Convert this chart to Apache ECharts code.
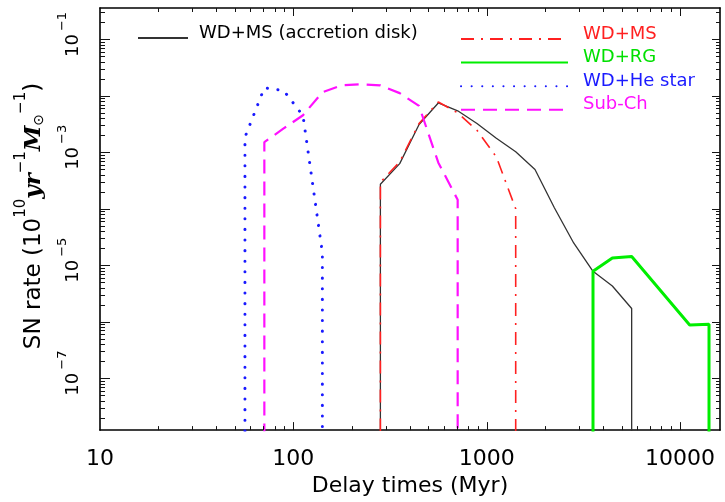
<!DOCTYPE html>
<html><head><meta charset="utf-8">
<script src="https://cdn.jsdelivr.net/npm/echarts@6/dist/echarts.min.js"></script>
<style>html,body{margin:0;padding:0;background:#fff}#c{width:725px;height:502px}</style>
</head><body><div id="c"></div>
<script>
// ---- data (delay time in Myr, SN rate in 10^10 yr^-1 Msun^-1) ----
const accX = [282, 355, 447, 562, 708, 891, 1122, 1413, 1778, 2239, 2818, 3548, 4467, 5623];
const accY = [2.72e-4, 6.3e-4, 3.11e-3, 7.48e-3, 5.43e-3, 3.23e-3, 1.78e-3, 1.02e-3, 4.95e-4, 1.04e-4, 2.48e-5, 7.8e-6, 4.28e-6, 1.71e-6];
const msX = [282, 355, 447, 562, 708, 891, 1122, 1413];
const msY = [2.95e-4, 6.8e-4, 3.24e-3, 7.8e-3, 5.0e-3, 2.45e-3, 8.3e-4, 1.0e-4];
const rgX = [3548, 4467, 5623, 11220, 14125];
const rgY = [7.8e-6, 1.34e-5, 1.43e-5, 8.75e-7, 9.0e-7];
const heX = [56.2, 70.8, 89.1, 112.2, 141.3];
const heY = [1.85e-3, 1.39e-2, 1.245e-2, 4.45e-3, 1.66e-5];
const subX = [70.8, 89.1, 112.2, 141.3, 177.8, 223.9, 281.8, 354.8, 446.7, 562.3, 707.9];
const subY = [1.51e-3, 2.65e-3, 4.53e-3, 1.16e-2, 1.535e-2, 1.6e-2, 1.535e-2, 1.117e-2, 6.64e-3, 6.55e-4, 1.44e-4];
const ZERO_RATE = 1e-10; // rate falls to zero outside each channel's range

const seriesNames = ['WD+MS (accretion disk)', 'WD+MS', 'WD+RG', 'WD+He star', 'Sub-Ch'];
const xLabelValues = [10, 100, 1000, 10000];
const yLabelValues = [1e-1, 1e-3, 1e-5, 1e-7];
const xMajorValues = [10, 100, 1000, 10000];
const yMajorValues = [1e-1, 1e-2, 1e-3, 1e-4, 1e-5, 1e-6, 1e-7, 1e-8];
const X_MIN = 10, X_MAX = 16100, Y_MIN = 1.2e-8, Y_MAX = 0.36;

const xMinorValues = [];
[10, 100, 1000].forEach(d => { for (let k = 2; k <= 9; k++) xMinorValues.push(k * d); });
const yMinorValues = [];
yMajorValues.forEach(d => { for (let k = 2; k <= 9; k++) { const v = k * d; if (v > Y_MIN && v < Y_MAX) yMinorValues.push(v); } });

function withDrops(xs, ys) {
  const out = [[xs[0], ZERO_RATE]];
  xs.forEach((x, i) => out.push([x, ys[i]]));
  out.push([xs[xs.length - 1], ZERO_RATE]);
  return out;
}

const FONT = 'DejaVu Sans';
const tickColor = '#141414';
const lg = Math.log10;
const frameLine = { show: true, onZero: false, lineStyle: { color: '#000', width: 1.6 } };

const yNameText = {
  type: 'text', x: 30, y: 216, rotation: Math.PI / 2,
  style: {
    text: '{a|SN rate (10}{s|10}{i|yr}{s|\u22121}{i|M}{u|\u2299}{s|\u22121}{a|)}',
    align: 'center', verticalAlign: 'middle',
    rich: {
      a: { fontFamily: FONT, fontSize: 23, fill: '#000', lineHeight: 32, verticalAlign: 'bottom' },
      s: { fontFamily: FONT, fontSize: 15, fill: '#000', lineHeight: 32, verticalAlign: 'top' },
      i: { fontFamily: 'DejaVu Serif', fontWeight: 'bold', fontStyle: 'italic', fontSize: 23, fill: '#000', lineHeight: 32, verticalAlign: 'bottom' },
      u: { fontFamily: FONT, fontSize: 14, fill: '#000', lineHeight: 32, verticalAlign: 'bottom' }
    }
  }
};

const option = {
  animation: false,
  backgroundColor: '#fff',
  grid: { left: 100, right: 5, top: 8, bottom: 64, containLabel: false },
  xAxis: [
    {
      type: 'log', logBase: 10, position: 'bottom', min: X_MIN, max: X_MAX,
      axisLine: frameLine, axisTick: { show: false }, splitLine: { show: false },
      axisLabel: { show: true, customValues: xLabelValues, margin: 18, fontFamily: FONT, fontSize: 22, color: '#000',
        formatter: v => String(Math.round(v)) },
      name: 'Delay times (Myr)', nameLocation: 'middle', nameGap: 30,
      nameTextStyle: { fontFamily: FONT, fontSize: 22, color: '#000' }
    },
    { type: 'log', logBase: 10, position: 'top', min: X_MIN, max: X_MAX,
      axisLine: frameLine, axisTick: { show: false }, axisLabel: { show: false }, splitLine: { show: false } }
  ],
  yAxis: [
    {
      type: 'log', logBase: 10, position: 'left', min: Y_MIN, max: Y_MAX,
      axisLine: frameLine, axisTick: { show: false }, splitLine: { show: false },
      axisLabel: {
        show: true, customValues: yLabelValues, rotate: 90, margin: 18,
        formatter: v => { const e = Math.round(lg(v)); return '{b|10}{s|' + (e < 0 ? '\u2212' : '') + Math.abs(e) + '}'; },
        rich: {
          b: { fontFamily: FONT, fontSize: 18, color: '#000', lineHeight: 26, verticalAlign: 'bottom', padding: [0, 0, 0, 10] },
          s: { fontFamily: FONT, fontSize: 13, color: '#000', lineHeight: 26, verticalAlign: 'top', padding: [0, 0, 0, 3] }
        }
      }
    },
    { type: 'log', logBase: 10, position: 'right', min: Y_MIN, max: Y_MAX,
      axisLine: frameLine, axisTick: { show: false }, axisLabel: { show: false }, splitLine: { show: false } }
  ],
  legend: [
    {
      data: [{ name: seriesNames[0], textStyle: { color: '#000' } }],
      left: 137, top: 24, padding: 0, orient: 'vertical', itemWidth: 50, itemHeight: 14,
      itemStyle: { opacity: 0 },
      formatter: '{t|{name}}',
      textStyle: { fontFamily: FONT, fontSize: 18, padding: [0, 0, 0, 6],
        rich: { t: { fontFamily: FONT, fontSize: 18, lineHeight: 28, verticalAlign: 'top' } } }
    },
    {
      data: [
        { name: seriesNames[1], textStyle: { color: '#ff2020' } },
        { name: seriesNames[2], textStyle: { color: '#00e000' } },
        { name: seriesNames[3], textStyle: { color: '#1a1aff' } },
        { name: seriesNames[4], textStyle: { color: '#ff10ff' } }
      ],
      left: 460, top: 25, padding: 0, orient: 'vertical', itemWidth: 107, itemHeight: 14, itemGap: 4,
      itemStyle: { opacity: 0 },
      formatter: '{t|{name}}',
      textStyle: { fontFamily: FONT, fontSize: 18, padding: [0, 0, 0, 10],
        rich: { t: { fontFamily: FONT, fontSize: 18, lineHeight: 28, verticalAlign: 'top' } } }
    }
  ],
  graphic: [yNameText],
  series: [
    { name: seriesNames[0], type: 'line', symbol: 'none', data: withDrops(accX, accY), clip: true,
      lineStyle: { color: '#333', width: 1.3 }, itemStyle: { color: '#333' }, z: 2 },
    { name: seriesNames[1], type: 'line', symbol: 'none', data: withDrops(msX, msY), clip: true,
      lineStyle: { color: '#ff2020', width: 1.6, type: [13, 7, 2, 7] }, itemStyle: { color: '#ff2020' }, z: 3 },
    { name: seriesNames[2], type: 'line', symbol: 'none', data: withDrops(rgX, rgY), clip: true,
      lineStyle: { color: '#00ee00', width: 3 }, itemStyle: { color: '#00ee00' }, z: 3 },
    { name: seriesNames[3], type: 'line', symbol: 'none', data: withDrops(heX, heY), clip: true,
      lineStyle: { color: '#1a1aff', width: 3, type: [0.1, 10.5], cap: 'round' }, itemStyle: { color: '#1a1aff' }, z: 3 },
    { name: seriesNames[4], type: 'line', symbol: 'none', data: withDrops(subX, subY), clip: true,
      lineStyle: { color: '#ff10ff', width: 2.2, type: [14, 8] }, itemStyle: { color: '#ff10ff' }, z: 3 }
  ]
};
const chart = echarts.init(document.getElementById('c'), null, { renderer: 'canvas' });
chart.setOption(option);

// inward tick marks on all four sides, positioned through the axis scales
const toX = v => chart.convertToPixel({ xAxisIndex: 0 }, v);
const toY = v => chart.convertToPixel({ yAxisIndex: 0 }, v);
const L = toX(X_MIN), R = toX(X_MAX), T = toY(Y_MAX), B = toY(Y_MIN);
const ticks = [];
function tickLine(x1, y1, x2, y2) {
  ticks.push({ type: 'line', silent: true, z: 100,
    shape: { x1: x1, y1: y1, x2: x2, y2: y2 }, style: { stroke: tickColor, lineWidth: 1 } });
}
function xTick(v, len) {
  const x = Math.round(toX(v)) + 0.5;
  tickLine(x, B, x, B - len); tickLine(x, T, x, T + len);
}
function yTick(v, lenL, lenR) {
  const y = Math.round(toY(v)) + 0.5;
  tickLine(L, y, L + lenL, y); tickLine(R, y, R - lenR, y);
}
xMajorValues.filter(v => v > X_MIN && v < X_MAX).forEach(v => xTick(v, 8));
xMinorValues.forEach(v => xTick(v, 4));
yMajorValues.filter(v => v > Y_MIN && v < Y_MAX).forEach(v => yTick(v, 10, 8));
yMinorValues.forEach(v => yTick(v, 5, 4));
chart.setOption({ graphic: [yNameText, { type: 'group', silent: true, children: ticks }] });
</script>
</body></html>
